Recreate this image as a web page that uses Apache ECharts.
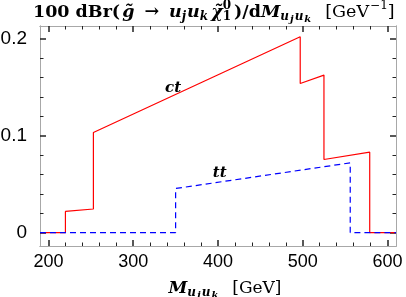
<!DOCTYPE html>
<html><head><meta charset="utf-8">
<script src="https://cdn.jsdelivr.net/npm/echarts@6/dist/echarts.min.js"></script>
<style>html,body{margin:0;padding:0;background:#fff}#c{width:406px;height:297px}</style>
</head><body><div id="c"></div>
<script>
// ---- data ----
const ctX = [190, 220, 220, 253, 253, 497, 497, 525, 525, 579, 579, 610];
const ctY = [0, 0, 0.0218, 0.0243, 0.1034, 0.2023, 0.154, 0.1627, 0.0755, 0.083, 0, 0];
const ttX = [190, 350, 350, 556, 556, 610];
const ttY = [0, 0, 0.0455, 0.072, 0, 0];
const xMajor = [200, 300, 400, 500, 600];
const xMinor = [220, 240, 260, 280, 320, 340, 360, 380, 420, 440, 460, 480, 520, 540, 560, 580];
const yMajor = [0, 0.1, 0.2];
const yMinor = [0.02, 0.04, 0.06, 0.08, 0.12, 0.14, 0.16, 0.18];
const ctLabelPos = [347, 0.149];
const ttLabelPos = [402, 0.0613];
const xRange = [190, 610];
const yRange = [-0.0139, 0.2134];

const pairs = (xs, ys) => xs.map((x, i) => [x, ys[i]]);

const SERIF = "'DejaVu Serif', serif";
const SANS = "'Liberation Sans', Arial, sans-serif";
function richSet(size, gap) {
  const sub = Math.round(size * 0.7), subsub = Math.round(size * 0.56);
  const base = {fontFamily: SERIF, color: '#000'};
  return {
    b: Object.assign({fontWeight: 'bold', fontSize: size, lineHeight: 28}, base),
    i: Object.assign({fontWeight: 'bold', fontStyle: 'italic', fontSize: size, lineHeight: 28}, base),
    im: Object.assign({fontWeight: 'bold', fontStyle: 'italic', fontSize: size, lineHeight: 28, padding: [0, 0, 0, gap]}, base),
    ar: Object.assign({fontWeight: 'bold', fontSize: size, lineHeight: 28, padding: [0, 10, 0, 10]}, base),
    n: Object.assign({fontWeight: 'normal', fontSize: size, lineHeight: 28}, base),
    ng: Object.assign({fontWeight: 'normal', fontSize: size, lineHeight: 28, padding: [0, 0, 0, 13]}, base),
    s: Object.assign({fontWeight: 'bold', fontStyle: 'italic', fontSize: sub, lineHeight: sub, padding: [9, 1, 0, 0]}, base),
    ss: Object.assign({fontWeight: 'bold', fontStyle: 'italic', fontSize: subsub, lineHeight: subsub, padding: [15, 1, 0, 0]}, base),
    sp0: Object.assign({fontWeight: 'bold', fontSize: sub, lineHeight: sub, padding: [0, 0, 12, 0], width: 0}, base),
    sb1: Object.assign({fontWeight: 'bold', fontSize: sub, lineHeight: sub, padding: [9, 3, 0, 0]}, base),
    spn: Object.assign({fontWeight: 'normal', fontSize: sub, lineHeight: sub, padding: [0, 0, 12, 1]}, base)
  };
}

function xAxisDef(pos, vals, len, w, labels) {
  return {
    type: 'value', min: xRange[0], max: xRange[1], position: pos,
    axisLine: {show: true, onZero: false, lineStyle: {color: '#a8a8a8', width: 1}},
    axisTick: {show: true, inside: true, length: len, customValues: vals, lineStyle: {color: '#222', width: w}},
    axisLabel: labels ? {show: true, customValues: vals, margin: 7, fontFamily: SANS, fontSize: 18, color: '#000'} : {show: false},
    splitLine: {show: false}
  };
}
function yAxisDef(pos, vals, len, w, labels) {
  return {
    type: 'value', min: yRange[0], max: yRange[1], position: pos,
    axisLine: {show: true, onZero: false, lineStyle: {color: '#a8a8a8', width: 1}},
    axisTick: {show: true, inside: true, length: len, customValues: vals, lineStyle: {color: '#222', width: w}},
    axisLabel: labels ? {show: true, customValues: vals, margin: 13, fontFamily: SANS, fontSize: 19, color: '#000',
      formatter: v => (v === 0 ? '0' : String(+v.toFixed(2)))} : {show: false},
    splitLine: {show: false}
  };
}

const xa0 = xAxisDef('bottom', xMajor, 6, 1.5, true);
xa0.name = '{im|M}{s|u}{ss|j}{s|u}{ss|k}{ng|[GeV]}';
xa0.nameLocation = 'middle';
xa0.nameGap = 21;
xa0.nameTextStyle = {rich: richSet(17, 14)};

const chart = echarts.init(document.getElementById('c'), null, {renderer: 'canvas'});
chart.setOption({
  animation: false,
  backgroundColor: '#fff',
  title: {
    left: 33, top: -2, padding: 0,
    text: '{b|100 dBr(}{im|g̃}{ar|→}{i|u}{s|j}{i|u}{s|k}{im|χ̃}{sp0|0}{sb1|1}{b|)/d}{i|M}{s|u}{ss|j}{s|u}{ss|k}{ng|[GeV}{spn|−1}{n|]}',
    textStyle: {rich: richSet(17.5, 2)}
  },
  grid: {left: 40, right: 10, top: 26, bottom: 51, containLabel: false, outerBoundsMode: 'none'},
  xAxis: [
    xa0,
    xAxisDef('bottom', xMinor, 3.5, 1, false),
    xAxisDef('top', xMajor, 6, 1.5, false),
    xAxisDef('top', xMinor, 3.5, 1, false)
  ],
  yAxis: [
    yAxisDef('left', yMajor, 6, 1.5, true),
    yAxisDef('left', yMinor, 3.5, 1, false),
    yAxisDef('right', yMajor, 6, 1.5, false),
    yAxisDef('right', yMinor, 3.5, 1, false)
  ],
  series: [
    {
      type: 'line', name: 'ct', xAxisIndex: 0, yAxisIndex: 0, showSymbol: false, symbol: 'none',
      data: pairs(ctX, ctY), lineStyle: {color: '#ff0000', width: 1.2}, z: 2,
      markPoint: {symbol: 'circle', symbolSize: 0, data: [{coord: ctLabelPos}],
        label: {show: true, position: 'inside', formatter: 'ct', fontFamily: SERIF, fontStyle: 'italic', fontWeight: 'bold', fontSize: 15, color: '#000'}}
    },
    {
      type: 'line', name: 'tt', xAxisIndex: 0, yAxisIndex: 0, showSymbol: false, symbol: 'none',
      data: pairs(ttX, ttY), lineStyle: {color: '#0000ff', width: 1.2, type: [6, 4]}, z: 3,
      markPoint: {symbol: 'circle', symbolSize: 0, data: [{coord: ttLabelPos}],
        label: {show: true, position: 'inside', formatter: 'tt', fontFamily: SERIF, fontStyle: 'italic', fontWeight: 'bold', fontSize: 15, color: '#000'}}
    }
  ]
});
</script></body></html>
